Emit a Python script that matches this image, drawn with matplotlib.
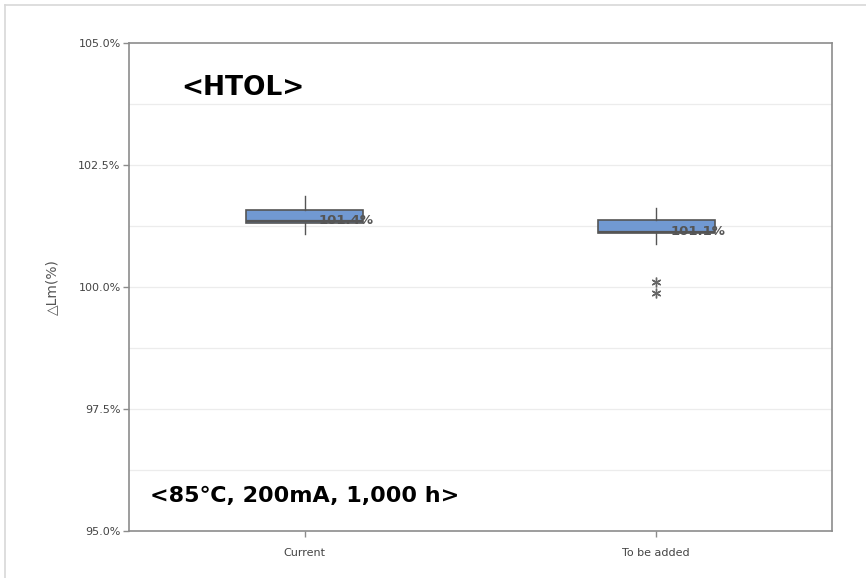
import matplotlib
matplotlib.use("Agg")
import matplotlib.pyplot as plt
from matplotlib.lines import Line2D

categories = ["Current", "To be added"]
q1 = [101.31, 101.11]
q3 = [101.58, 101.37]
medians = [101.35, 101.12]
whisker_low = [101.09, 100.88]
whisker_high = [101.86, 101.62]
outliers = [[], [100.10, 99.88]]
median_labels = ["101.4%", "101.1%"]

yticks = [95.0, 97.5, 100.0, 102.5, 105.0]
minor_grid = [96.25, 98.75, 101.25, 103.75]

W, H = 866, 578
fig = plt.figure(figsize=(W / 100, H / 100), dpi=100)
ax = fig.add_axes([129 / W, 1 - 531 / H, (832 - 129) / W, (531 - 43) / H])

stats = []
for i, c in enumerate(categories):
    stats.append(dict(label=c, q1=q1[i], q3=q3[i], med=medians[i],
                      whislo=whisker_low[i], whishi=whisker_high[i],
                      fliers=outliers[i]))

ax.bxp(stats, positions=[0, 1], widths=0.333, patch_artist=True,
       showcaps=False,
       boxprops=dict(facecolor="#7199d2", edgecolor="#555555", linewidth=1.2),
       whiskerprops=dict(color="#555555", linewidth=1.0),
       medianprops=dict(color="#555555", linewidth=1.6),
       flierprops=dict(marker=(6, 2, 0), markersize=7, markeredgecolor="#666666",
                       markeredgewidth=1.0, linestyle="none"),
       zorder=3)

for i, lab in enumerate(median_labels):
    ax.text(i + 0.04, medians[i] + 0.02, lab, fontsize=9.5, fontweight="bold",
            color="#555555", va="center", ha="left", zorder=4)

ax.set_xlim(-0.5, 1.5)
ax.set_ylim(95.0, 105.0)
ax.set_yticks(yticks)
ax.set_yticklabels([f"{v:.1f}%" for v in yticks])
ax.set_xticks([0, 1])
ax.set_xticklabels(categories)

for v in yticks[1:-1] + minor_grid:
    ax.axhline(v, color="#ececec", linewidth=0.9, zorder=0)

for s in ax.spines.values():
    s.set_color("#8c8c8c")
    s.set_linewidth(1.2)

ax.tick_params(axis="both", colors="#8c8c8c", labelcolor="#444444", labelsize=8,
               length=4, width=1)
ax.tick_params(axis="y", pad=2)
ax.tick_params(axis="x", pad=8)

ax.set_ylabel("△Lm(%)", fontsize=10, color="#555555", labelpad=14)

fam = ["DejaVu Sans", "Noto Sans CJK KR"]
ax.text(181 / W, 1 - 88 / H, "<HTOL>", transform=fig.transFigure,
        fontsize=19, fontweight="bold", family=fam,
        va="center", ha="left", color="black")
ax.text(150 / W, 1 - 496 / H, "<85℃, 200mA, 1,000 h>", transform=fig.transFigure,
        fontsize=16, fontweight="bold", family=fam,
        va="center", ha="left", color="black")

fig.add_artist(Line2D([5 / W, 1], [1 - 5 / H, 1 - 5 / H], color="#d8d8d8",
                      linewidth=1.2, transform=fig.transFigure))
fig.add_artist(Line2D([5 / W, 5 / W], [0, 1 - 5 / H], color="#d8d8d8",
                      linewidth=1.2, transform=fig.transFigure))

fig.savefig("out.png", dpi=100)
